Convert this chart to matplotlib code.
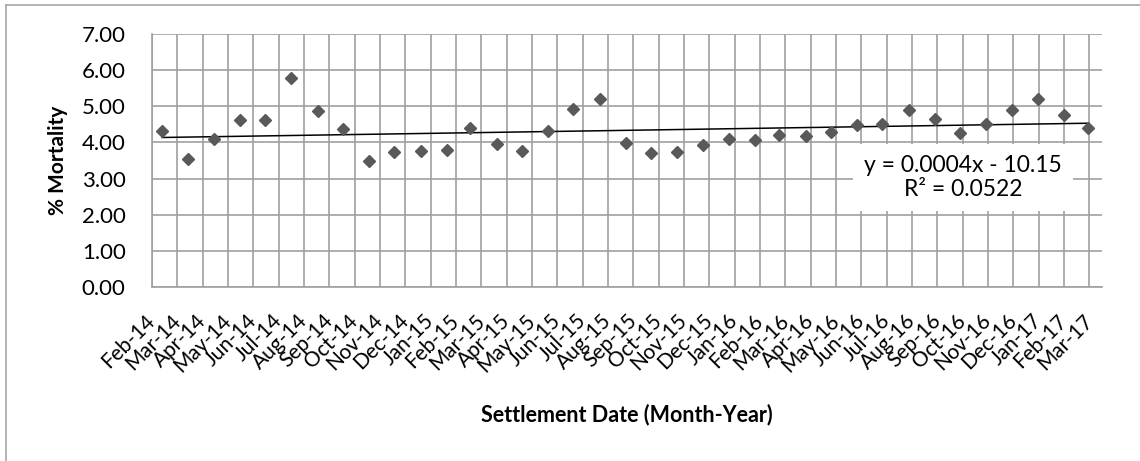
import numpy as np
import matplotlib
matplotlib.use('Agg')
from matplotlib import pyplot as plt
from matplotlib.lines import Line2D
import matplotlib.dates as mdates

plt.rcParams['font.family'] = ['Lato', 'DejaVu Sans']

# Settlement months (first of month) and % mortality
months = ['2014-03', '2014-04', '2014-05', '2014-06', '2014-07', '2014-08', '2014-09',
          '2014-10', '2014-11', '2014-12', '2015-01', '2015-02', '2015-03', '2015-04',
          '2015-05', '2015-06', '2015-07', '2015-08', '2015-09', '2015-10', '2015-11',
          '2015-12', '2016-01', '2016-02', '2016-03', '2016-04', '2016-05', '2016-06',
          '2016-07', '2016-08', '2016-09', '2016-10', '2016-11', '2016-12', '2017-01',
          '2017-02', '2017-03']
mortality = [4.32, 3.53, 4.10, 4.61, 4.63, 5.77, 4.87, 4.38, 3.48, 3.74,
             3.75, 3.80, 4.39, 3.95, 3.77, 4.33, 4.93, 5.20, 3.98, 3.72,
             3.74, 3.92, 4.10, 4.08, 4.21, 4.17, 4.28, 4.49, 4.52, 4.91,
             4.66, 4.26, 4.50, 4.91, 5.20, 4.77, 4.40]

tick_labels = ['Feb-14', 'Mar-14', 'Apr-14', 'May-14', 'Jun-14', 'Jul-14', 'Aug-14',
               'Sep-14', 'Oct-14', 'Nov-14', 'Dec-14', 'Jan-15', 'Feb-15', 'Mar-15',
               'Apr-15', 'May-15', 'Jun-15', 'Jul-15', 'Aug-15', 'Sep-15', 'Oct-15',
               'Nov-15', 'Dec-15', 'Jan-16', 'Feb-16', 'Mar-16', 'Apr-16', 'May-16',
               'Jun-16', 'Jul-16', 'Aug-16', 'Sep-16', 'Oct-16', 'Nov-16', 'Dec-16',
               'Jan-17', 'Feb-17', 'Mar-17']

trend_text = 'y = 0.0004x - 10.15\nR² = 0.0522'

# x as date numbers (days)
x = mdates.date2num(np.array([m + '-01' for m in months], dtype='datetime64[D]'))
y = np.array(mortality)

# axis runs on a 30-day major unit, like the original spreadsheet
x_min = mdates.date2num(np.datetime64('2014-02-17'))
x_max = x_min + 1125
ticks = x_min + 30 * np.arange(len(tick_labels))

fig = plt.figure(figsize=(11.4, 4.61), dpi=100)
ax = fig.add_axes([152 / 1140, 1 - 287 / 461, 950 / 1140, 253 / 461])

grid_col = '#a0a0a0'
ax.set_xlim(x_min, x_max)
ax.set_ylim(0, 7)
ax.set_xticks(ticks)
ax.set_xticklabels(tick_labels, rotation=45, ha='right', va='center',
                   rotation_mode='anchor', fontsize=15)
ax.set_yticks(np.arange(0, 8, 1))
ax.set_yticklabels([f'{v:.2f}' for v in np.arange(0, 8, 1)], fontsize=16)
ax.tick_params(length=0)
ax.tick_params(axis='x', pad=22)
ax.tick_params(axis='y', pad=19)
ax.grid(True, color=grid_col, linewidth=1.2)
ax.set_axisbelow(True)
for side in ['top', 'right']:
    ax.spines[side].set_visible(False)
for side in ['left', 'bottom']:
    ax.spines[side].set_color(grid_col)
    ax.spines[side].set_linewidth(1.2)

# data points
ax.plot(x, y, linestyle='none', marker='D', markersize=6.3, color='#595959', zorder=3)

# linear trendline over the data range
slope, intercept = np.polyfit(x, y, 1)
xs = np.array([x[0], x[-1]])
ax.plot(xs, slope * xs + intercept, color='black', linewidth=1.1, zorder=2)

ax.text(0.8537, 0.433, trend_text, transform=ax.transAxes, ha='center', va='center',
        fontsize=16.5, linespacing=1.2, zorder=4,
        bbox=dict(facecolor='white', edgecolor='none', pad=8))

ax.set_ylabel('% Mortality', fontsize=15, fontweight='bold', labelpad=10)
ax.set_xlabel('Settlement Date (Month-Year)', fontsize=15.5, fontweight='bold', labelpad=20)

# chart area border (only top and left show in the crop)
fig.add_artist(Line2D([6 / 1140, 6 / 1140], [0, 1 - 5 / 461], transform=fig.transFigure,
                      color='#a6a6a6', linewidth=1.2))
fig.add_artist(Line2D([6 / 1140, 1], [1 - 5 / 461, 1 - 5 / 461], transform=fig.transFigure,
                      color='#a6a6a6', linewidth=1.2))

fig.savefig('out.png', dpi=100, facecolor='white')
